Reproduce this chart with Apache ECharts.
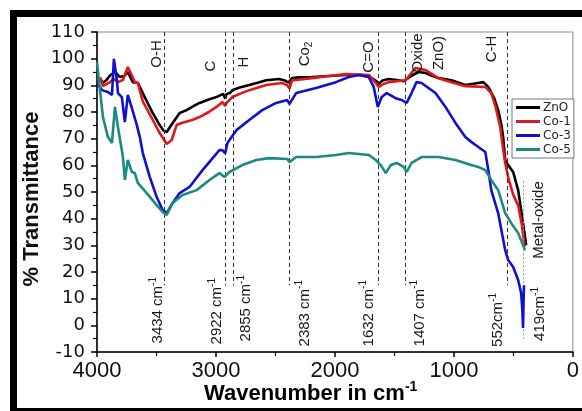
<!DOCTYPE html>
<html>
<head>
<meta charset="utf-8">
<script src="https://cdn.jsdelivr.net/npm/echarts@6/dist/echarts.min.js"></script>
<style>
  html, body { margin: 0; padding: 0; background: #fff; }
  #c { width: 582px; height: 411px; }
</style>
</head>
<body>
<div id="c"></div>
<script>
// FTIR spectra: [wavenumber (cm-1), % transmittance]
const ZnO = [
  [3975, 92.7], [3950, 90.9], [3920, 92.0], [3891, 93.7], [3849, 95.0], [3808, 93.1], [3770, 93.5],
  [3741, 95.0], [3699, 91.2], [3657, 90.9], [3615, 87.1], [3570, 83.0], [3531, 79.6], [3473, 75.1],
  [3440, 73.0], [3414, 72.5], [3364, 75.9], [3305, 79.6], [3247, 80.7], [3190, 82.2], [3138, 83.4],
  [3060, 84.7], [2996, 85.6], [2940, 86.8], [2922, 85.0], [2912, 86.7], [2880, 87.2], [2862, 88.2],
  [2800, 89.2], [2720, 90.1], [2650, 91.0], [2577, 91.9], [2469, 92.4], [2420, 91.8], [2390, 91.0],
  [2383, 90.4], [2360, 92.7], [2300, 93.0], [2192, 93.1], [2050, 93.5], [1908, 93.9], [1774, 93.9],
  [1690, 92.7], [1650, 91.5], [1632, 90.5], [1600, 91.8], [1548, 92.4], [1480, 92.0], [1420, 91.5],
  [1406, 91.2], [1360, 93.5], [1297, 95.0], [1238, 94.6], [1180, 93.5], [1130, 92.7], [1021, 91.9],
  [960, 91.0], [904, 90.1], [850, 90.5], [795, 90.9], [753, 91.2], [711, 89.4], [660, 85.0],
  [628, 80.7], [600, 75.0], [586, 70.6], [569, 62.0], [544, 60.1], [502, 57.5], [460, 50.7],
  [435, 43.2], [402, 33.1], [393, 30.1]
];
const Co1 = [
  [3975, 93.0], [3950, 89.7], [3891, 91.2], [3860, 92.5], [3824, 91.2], [3782, 92.0], [3741, 96.9],
  [3707, 93.7], [3682, 91.2], [3657, 90.9], [3615, 84.0], [3531, 77.0], [3473, 72.1], [3414, 68.0],
  [3372, 69.5], [3331, 75.1], [3289, 75.9], [3200, 77.0], [3138, 78.1], [3060, 80.0], [2996, 81.9],
  [2946, 83.7], [2922, 82.3], [2912, 83.4], [2862, 85.6], [2800, 86.8], [2720, 88.2], [2577, 90.1],
  [2444, 90.9], [2400, 90.0], [2383, 88.8], [2360, 91.9], [2326, 92.0], [2192, 92.7], [2050, 93.5],
  [1908, 94.2], [1715, 93.9], [1657, 90.9], [1632, 89.4], [1590, 90.5], [1548, 91.2], [1406, 91.9],
  [1360, 94.5], [1322, 96.5], [1238, 95.7], [1130, 92.7], [1021, 91.2], [904, 89.7], [736, 89.4],
  [686, 87.1], [650, 82.0], [611, 74.4], [586, 66.0], [569, 61.0], [544, 55.5], [502, 49.0],
  [460, 45.0], [430, 38.0], [410, 31.0], [402, 29.5]
];
const Co3 = [
  [4000, 90.9], [3975, 89.4], [3958, 88.2], [3908, 87.5], [3874, 86.4], [3858, 99.9], [3850, 100.2],
  [3833, 92.0], [3824, 87.1], [3791, 85.6], [3766, 76.2], [3741, 86.4], [3707, 81.5], [3665, 75.1],
  [3640, 70.6], [3615, 64.6], [3556, 55.6], [3498, 48.1], [3448, 43.2], [3414, 42.1], [3364, 45.9],
  [3305, 49.6], [3222, 51.9], [3113, 58.2], [2971, 65.7], [2946, 65.7], [2922, 64.5], [2904, 68.4],
  [2828, 73.2], [2720, 77.0], [2611, 80.7], [2494, 83.4], [2400, 84.5], [2383, 83.0], [2377, 83.4],
  [2326, 87.1], [2159, 89.0], [1992, 91.2], [1883, 93.1], [1799, 93.9], [1715, 93.1], [1674, 89.4],
  [1640, 81.9], [1607, 85.6], [1565, 87.1], [1490, 85.2], [1439, 84.5], [1397, 83.4], [1356, 87.1],
  [1314, 91.2], [1272, 90.9], [1155, 87.1], [1071, 81.9], [987, 75.9], [904, 70.6], [854, 68.8],
  [795, 66.9], [736, 65.0], [711, 58.2], [686, 50.7], [628, 42.1], [569, 28.2], [544, 24.5],
  [502, 21.9], [460, 17.0], [435, 12.1], [425, 6.0], [419, -1.0], [415, 8.0], [411, 15.0]
];
const Co5 = [
  [4000, 98.7], [3975, 88.2], [3950, 78.1], [3908, 70.6], [3874, 68.4], [3849, 81.9], [3824, 74.4],
  [3782, 63.1], [3766, 54.5], [3741, 62.0], [3707, 57.5], [3682, 57.1], [3657, 53.4], [3582, 49.6],
  [3498, 45.1], [3448, 42.5], [3414, 41.4], [3364, 45.9], [3280, 48.9], [3163, 50.7], [3054, 54.5],
  [2971, 57.1], [2929, 55.6], [2922, 55.0], [2887, 57.5], [2778, 60.1], [2661, 62.0], [2552, 62.7],
  [2400, 62.4], [2383, 61.2], [2326, 63.1], [2159, 63.1], [1992, 63.9], [1883, 64.6], [1715, 63.9],
  [1657, 62.0], [1615, 60.1], [1573, 57.1], [1531, 60.1], [1481, 60.9], [1423, 59.4], [1397, 57.5],
  [1356, 60.9], [1272, 63.1], [1130, 63.1], [987, 62.0], [854, 60.1], [795, 59.4], [736, 58.2],
  [686, 54.5], [628, 50.7], [569, 42.1], [519, 38.4], [460, 34.6], [402, 28.2]
];

const seriesNames = ['ZnO', 'Co-1', 'Co-3', 'Co-5'];
const seriesData = [ZnO, Co1, Co3, Co5];
const lineColors = ['#000000', '#e3161b', '#1010d0', '#1b8a80'];

// Marked absorption bands (cm-1) and their labels
const peakWavenumbers = [3434, 2922, 2855, 2383, 1632, 1407, 552, 419];
const peakLabels = ['3434 cm', '2922 cm', '2855 cm', '2383 cm', '1632 cm', '1407 cm', '552cm', '419cm'];
const bandNames = ['O-H', 'C', 'H', 'Co', 'C=O', 'Oxide', 'ZnO)', 'C-H', 'Metal-oxide'];

const chart = echarts.init(document.getElementById('c'));

const guideLines = peakWavenumbers.slice(0, 7).map(w => [
  { coord: [w, 110] }, { coord: [w, 15] }
]);
guideLines.push([
  { coord: [419, 54], lineStyle: { type: [2, 2], color: '#9a9a9a', width: 1 } },
  { coord: [419, -5] }
]);

chart.setOption({
  animation: false,
  grid: { left: 97, right: 7, top: 32, bottom: 59, show: true, borderColor: '#8a8a8a', borderWidth: 1 },
  xAxis: {
    type: 'value', inverse: true, min: 0, max: 4000, interval: 1000,
    axisLine: { show: true, onZero: false, lineStyle: { color: '#000', width: 1.5 } },
    axisTick: { show: true, inside: false, length: 5, lineStyle: { color: '#000', width: 1.5 } },
    minorTick: { show: true, splitNumber: 2, length: 4, lineStyle: { color: '#000', width: 1.2 } },
    axisLabel: { fontFamily: 'Liberation Sans', fontSize: 22, color: '#111', margin: 8,
      formatter: v => String(v) },
    splitLine: { show: false }
  },
  yAxis: {
    type: 'value', min: -10, max: 110, interval: 10,
    axisLine: { show: true, onZero: false, lineStyle: { color: '#000', width: 1.5 } },
    axisTick: { show: true, inside: false, length: 6, lineStyle: { color: '#000', width: 1.5 } },
    minorTick: { show: true, splitNumber: 2, length: 4, lineStyle: { color: '#000', width: 1.2 } },
    axisLabel: { fontFamily: 'DejaVu Sans', fontSize: 18, color: '#111', margin: 12 },
    splitLine: { show: false }
  },
  legend: {
    orient: 'vertical', left: 512, top: 99, padding: [2, 3, 2, 4], itemGap: 1,
    icon: 'rect', itemWidth: 24, itemHeight: 3,
    borderColor: '#777', borderWidth: 1, backgroundColor: '#fff',
    textStyle: { fontFamily: 'DejaVu Sans', fontSize: 12, color: '#222', lineHeight: 13, padding: [0, 0, 0, -2] },
    data: seriesNames
  },
  series: seriesNames.map((name, i) => ({
    name, type: 'line', data: seriesData[i], symbol: 'none', smooth: false,
    lineStyle: { color: lineColors[i], width: 2.6 }, itemStyle: { color: lineColors[i] },
    z: 3 + i,
    markLine: i === 0 ? {
      silent: true, symbol: ['none', 'none'], label: { show: false },
      lineStyle: { type: [4, 3], color: '#333', width: 1 },
      data: guideLines
    } : undefined
  }))
});

// rotated annotation texts
const px = (w, v) => chart.convertToPixel({ xAxisIndex: 0, yAxisIndex: 0 }, [w, v]);
const FONT = 'Liberation Sans';
const INK = '#1a1a1a';
function vText(text, x, y, align, rich) {
  return {
    type: 'text', x, y, rotation: Math.PI / 2, silent: true, z: 10,
    style: {
      text, align, verticalAlign: 'middle', fill: INK,
      font: '15px "' + FONT + '"', rich
    }
  };
}
const supRich = {
  n: { fontFamily: FONT, fontSize: 15, lineHeight: 20, color: INK },
  s: { fontFamily: FONT, fontSize: 10, lineHeight: 10, color: INK, verticalAlign: 'top' }
};
const subRich = {
  n: { fontFamily: FONT, fontSize: 15, lineHeight: 20, color: INK },
  s: { fontFamily: FONT, fontSize: 10, lineHeight: 10, color: INK, verticalAlign: 'bottom' }
};

// wavenumber labels beneath the guide lines: [dx, top end]
const peakLabelPlace = [[-6, 277], [-8, 278], [13, 275], [15, 280], [-10, 280], [14, 280], [-9, 293], [17, 287]];
// band names: [line index, dx, centre y]
const bandPlace = [[0, -7, 54], [1, -14, 66], [2, 11, 62], [3, 15, 54], [4, -10, 57], [5, 12, 53], [5, 33, 53], [6, -15, 49], [7, 16, 220]];

const graphics = [];
peakLabels.forEach((t, i) => {
  const [x] = px(peakWavenumbers[i], 0);
  const [dx, yTop] = peakLabelPlace[i];
  graphics.push(vText('{n|' + t + '}{s|-1}', x + dx, yTop, 'right', supRich));
});
bandNames.forEach((t, i) => {
  const [li, dx, yc] = bandPlace[i];
  const [x] = px(peakWavenumbers[li], 0);
  if (t === 'Co') {
    graphics.push(vText('{n|Co}{s|2}', x + dx, yc, 'center', subRich));
  } else {
    graphics.push(vText(t, x + dx, yc, 'center'));
  }
});

// axis titles
graphics.push({
  type: 'text', x: 32, y: 199, rotation: Math.PI / 2, silent: true,
  style: { text: '% Transmittance', align: 'center', verticalAlign: 'middle',
    font: 'bold 22px "Liberation Sans"', fill: '#111' }
});
graphics.push({
  type: 'text', x: 204, y: 394, silent: true,
  style: {
    text: '{b|Wavenumber in cm}{s|-1}', align: 'left', verticalAlign: 'middle',
    rich: {
      b: { fontFamily: 'Liberation Sans', fontWeight: 'bold', fontSize: 22, lineHeight: 27, color: '#111' },
      s: { fontFamily: 'Liberation Sans', fontWeight: 'bold', fontSize: 14, lineHeight: 12, color: '#111', verticalAlign: 'top' }
    }
  }
});

// outer frame
graphics.push({
  type: 'rect', silent: true, z: 20,
  shape: { x: 13.5, y: 13.5, width: 700, height: 398 },
  style: { fill: 'none', stroke: '#000', lineWidth: 7 }
});

chart.setOption({ graphic: graphics });
</script>
</body>
</html>
